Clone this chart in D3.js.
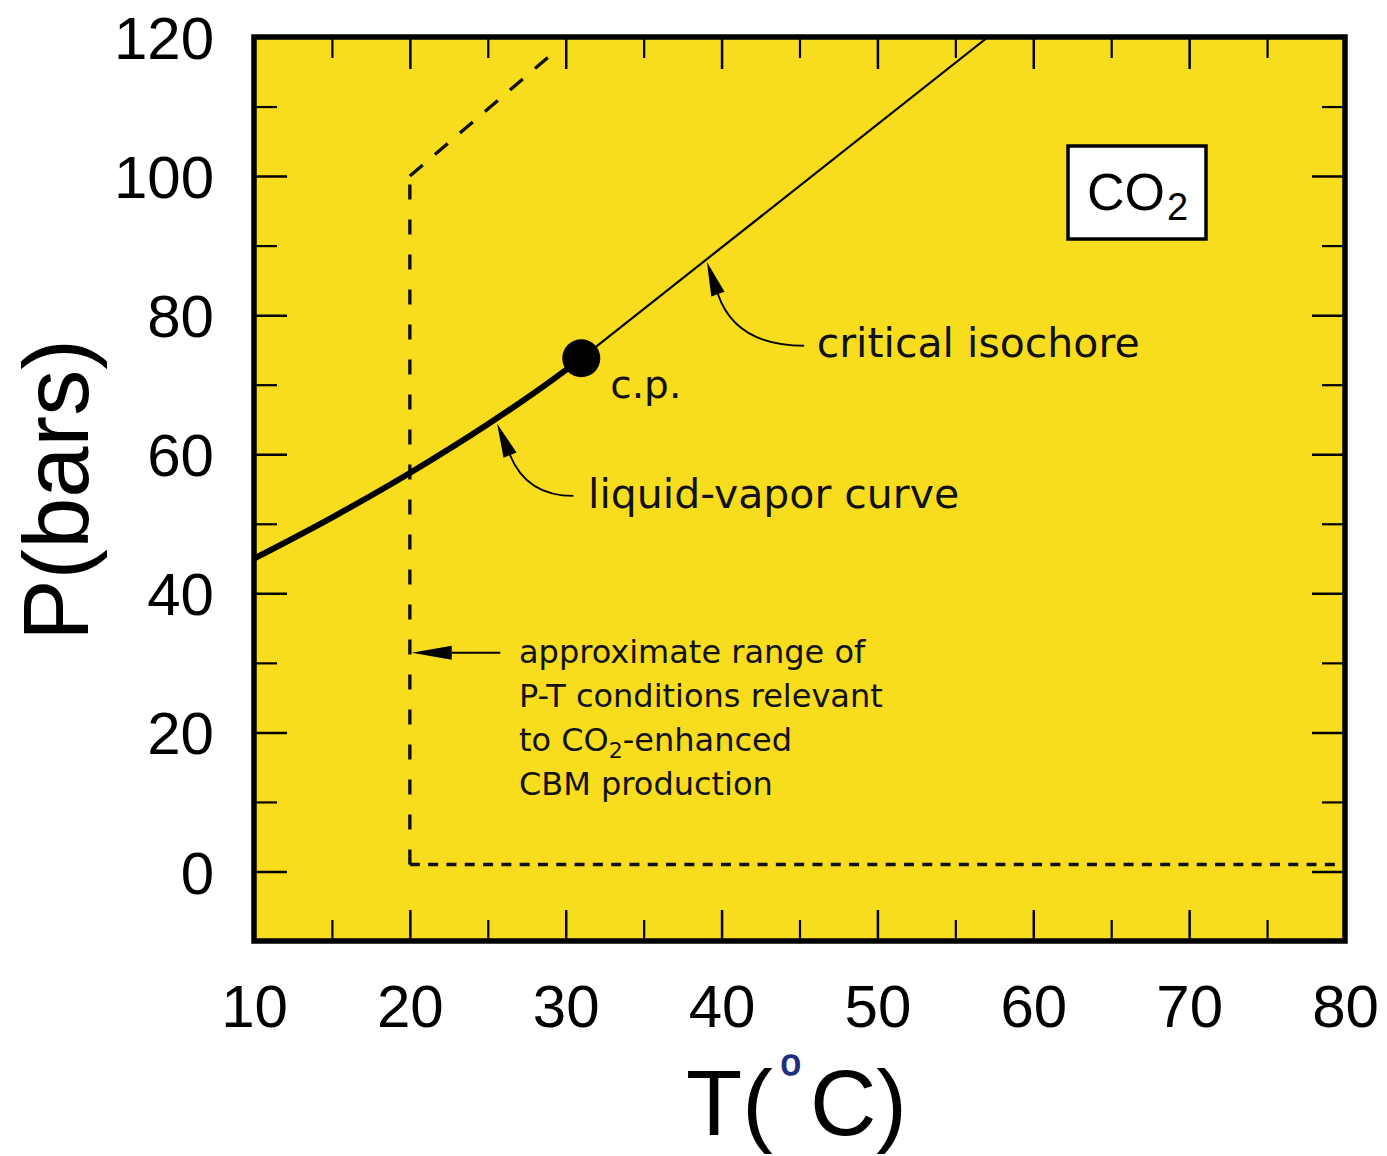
<!DOCTYPE html>
<html>
<head>
<meta charset="utf-8">
<script src="https://cdn.jsdelivr.net/npm/d3@7"></script>
<style>
  html, body { margin: 0; padding: 0; background: #ffffff; }
  svg { display: block; }
</style>
</head>
<body>
<script>
// ---------- data ----------
const xTickValues = [10, 20, 30, 40, 50, 60, 70, 80];
const xMinorValues = [15, 25, 35, 45, 55, 65, 75];
const yTickValues = [0, 20, 40, 60, 80, 100, 120];
const yMinorValues = [-10, 10, 30, 50, 70, 90, 110];

// liquid-vapor curve of CO2 (T in °C, P in bars)
const lvT = [10, 15, 20, 25, 30, 31.0];
const lvP = [45.0, 50.9, 57.3, 64.3, 72.1, 73.8];

// critical isochore
const isoT = [31.0, 57.1];
const isoP = [73.8, 120];

// critical point
const cpT = 31.0;
const cpP = 73.8;

// dashed range box (P-T conditions)
const rangeVertT = [20, 20];
const rangeVertP = [1, 100];
const rangeHorT = [20, 80];
const rangeHorP = [1, 1];
const rangeDiagT = [20, 29.6];
const rangeDiagP = [100, 118.5];

// annotation labels
const labelTexts = ["c.p.", "critical isochore", "liquid-vapor curve"];
const labelT = [32.86, 46.1, 31.43];
const labelP = [68.1, 74.0, 52.2];

const noteLines = ["approximate range of", "P-T conditions relevant", "to CO|2|-enhanced", "CBM production"];
const noteT = 27.0;
const noteP = 30.0;

// arrows: tip, control, tail (T, P)
const arrowTip = [[25.6, 64.4], [39.06, 87.65], [20.12, 31.45]];
const arrowCtrl = [[27.5, 54.0], [40.9, 75.6], [22.9, 31.45]];
const arrowTail = [[30.5, 54.0], [45.3, 75.6], [25.8, 31.45]];

// ---------- layout ----------
const W = 1387, H = 1156;
const x = d3.scaleLinear().domain([10, 80]).range([254, 1345]);
const y = d3.scaleLinear().domain([-10, 120]).range([941, 37]);
const YELLOW = "#f8dd1e";

const svg = d3.select("body").append("svg").attr("width", W).attr("height", H);

svg.append("rect").attr("x", x(10)).attr("y", y(120))
  .attr("width", x(80) - x(10)).attr("height", y(-10) - y(120))
  .attr("fill", YELLOW);

svg.append("defs").append("clipPath").attr("id", "plotclip")
  .append("rect").attr("x", x(10)).attr("y", y(120))
  .attr("width", x(80) - x(10)).attr("height", y(-10) - y(120));

// ---------- axes ----------
function styleAxis(g, sw) {
  g.select(".domain").remove();
  g.selectAll(".tick line").attr("stroke", "#000").attr("stroke-width", sw);
}
const tickFont = "'Liberation Sans', Arial, sans-serif";

// bottom
const gB = svg.append("g").attr("transform", `translate(0,${y(-10)})`)
  .call(d3.axisBottom(x).tickValues(xTickValues).tickSizeInner(-31).tickSizeOuter(0).tickPadding(0).tickFormat(d3.format("d")));
styleAxis(gB, 2.5);
gB.selectAll(".tick text").attr("y", 86).attr("dy", 0)
  .attr("font-family", tickFont).attr("font-size", 60).attr("fill", "#000");
const gBm = svg.append("g").attr("transform", `translate(0,${y(-10)})`)
  .call(d3.axisBottom(x).tickValues(xMinorValues).tickSizeInner(-21).tickSizeOuter(0).tickFormat(""));
styleAxis(gBm, 2.2);

// top
const gT = svg.append("g").attr("transform", `translate(0,${y(120)})`)
  .call(d3.axisTop(x).tickValues(xTickValues).tickSizeInner(-32).tickSizeOuter(0).tickFormat(""));
styleAxis(gT, 2.5);
const gTm = svg.append("g").attr("transform", `translate(0,${y(120)})`)
  .call(d3.axisTop(x).tickValues(xMinorValues).tickSizeInner(-21).tickSizeOuter(0).tickFormat(""));
styleAxis(gTm, 2.2);

// left
const gL = svg.append("g").attr("transform", `translate(${x(10)},0)`)
  .call(d3.axisLeft(y).tickValues(yTickValues).tickSizeInner(-33).tickSizeOuter(0).tickPadding(40).tickFormat(d3.format("d")));
styleAxis(gL, 2.5);
gL.selectAll(".tick text").attr("dy", "0.36em")
  .attr("font-family", tickFont).attr("font-size", 60).attr("fill", "#000");
const gLm = svg.append("g").attr("transform", `translate(${x(10)},0)`)
  .call(d3.axisLeft(y).tickValues(yMinorValues).tickSizeInner(-23).tickSizeOuter(0).tickFormat(""));
styleAxis(gLm, 2.2);

// right
const gR = svg.append("g").attr("transform", `translate(${x(80)},0)`)
  .call(d3.axisRight(y).tickValues(yTickValues).tickSizeInner(-33).tickSizeOuter(0).tickFormat(""));
styleAxis(gR, 2.5);
const gRm = svg.append("g").attr("transform", `translate(${x(80)},0)`)
  .call(d3.axisRight(y).tickValues(yMinorValues).tickSizeInner(-23).tickSizeOuter(0).tickFormat(""));
styleAxis(gRm, 2.2);

// ---------- data marks ----------
const plot = svg.append("g").attr("clip-path", "url(#plotclip)");
const line = d3.line().x(d => x(d[0])).y(d => y(d[1]));

function dashed(ts, ps, dash) {
  plot.append("path").datum(ts.map((t, i) => [t, ps[i]]))
    .attr("d", line).attr("fill", "none").attr("stroke", "#111")
    .attr("stroke-width", 3.4).attr("stroke-dasharray", dash);
}
dashed(rangeVertT, rangeVertP, "15,20");
dashed(rangeHorT, rangeHorP, "10,8.3");
dashed(rangeDiagT, rangeDiagP, "17,16");

plot.append("path").datum(isoT.map((t, i) => [t, isoP[i]]))
  .attr("d", line).attr("fill", "none").attr("stroke", "#000").attr("stroke-width", 2.2);

plot.append("path").datum(lvT.map((t, i) => [t, lvP[i]]))
  .attr("d", line.curve(d3.curveMonotoneX)).attr("fill", "none")
  .attr("stroke", "#000").attr("stroke-width", 6).attr("stroke-linecap", "round");

plot.append("circle").attr("cx", x(cpT)).attr("cy", y(cpP)).attr("r", 19).attr("fill", "#000");

// ---------- arrows ----------
function arrow(tip, ctrl, tail, headLen, halfW) {
  const tx = x(tip[0]), ty = y(tip[1]);
  const cx = x(ctrl[0]), cy = y(ctrl[1]);
  const ex = x(tail[0]), ey = y(tail[1]);
  let dx = cx - tx, dy = cy - ty;
  const L = Math.hypot(dx, dy); dx /= L; dy /= L;
  const bx = tx + dx * headLen, by = ty + dy * headLen;
  const px = -dy, py = dx;
  svg.append("path")
    .attr("d", `M${tx},${ty}L${bx + px * halfW},${by + py * halfW}L${bx - px * halfW},${by - py * halfW}Z`)
    .attr("fill", "#000");
  svg.append("path")
    .attr("d", `M${bx},${by}Q${cx},${cy} ${ex},${ey}`)
    .attr("fill", "none").attr("stroke", "#000").attr("stroke-width", 1.8);
}
arrow(arrowTip[0], arrowCtrl[0], arrowTail[0], 34, 7);
arrow(arrowTip[1], arrowCtrl[1], arrowTail[1], 34, 7);
arrow(arrowTip[2], arrowCtrl[2], arrowTail[2], 40, 7);

// ---------- labels ----------
const annFont = "'DejaVu Sans', Verdana, sans-serif";
labelTexts.forEach((s, i) => {
  svg.append("text").attr("x", x(labelT[i])).attr("y", y(labelP[i]))
    .attr("font-family", annFont).attr("font-size", i === 0 ? 39 : 41)
    .attr("fill", "#111").text(s);
});

noteLines.forEach((s, i) => {
  const t = svg.append("text").attr("x", x(noteT)).attr("y", y(noteP) + i * 44)
    .attr("font-family", annFont).attr("font-size", 32).attr("fill", "#111");
  const parts = s.split("|");
  if (parts.length === 1) { t.text(s); }
  else {
    t.append("tspan").text(parts[0]);
    t.append("tspan").attr("font-size", 22).attr("dy", 7).text(parts[1]);
    t.append("tspan").attr("dy", -7).text(parts[2]);
  }
});

// CO2 box
const boxG = svg.append("g");
boxG.append("rect").attr("x", 1068).attr("y", 146).attr("width", 138).attr("height", 93)
  .attr("fill", "#fff").attr("stroke", "#000").attr("stroke-width", 3.5);
const co2 = boxG.append("text").attr("x", 1087).attr("y", 210)
  .attr("font-family", tickFont).attr("font-size", 52).attr("fill", "#000");
co2.append("tspan").text("CO");
co2.append("tspan").attr("font-size", 38).attr("dy", 10).attr("dx", 2).text("2");

// ---------- frame ----------
svg.append("rect").attr("x", x(10)).attr("y", y(120))
  .attr("width", x(80) - x(10)).attr("height", y(-10) - y(120))
  .attr("fill", "none").attr("stroke", "#000").attr("stroke-width", 5.5);

// ---------- axis titles ----------
svg.append("text").attr("transform", "translate(88,490) rotate(-90)")
  .attr("text-anchor", "middle").attr("font-family", tickFont).attr("font-size", 92)
  .attr("fill", "#000").text("P(bars)");

const xt = svg.append("text").attr("x", 686).attr("y", 1135)
  .attr("font-family", tickFont).attr("font-size", 92).attr("fill", "#000");
xt.append("tspan").text("T(");
xt.append("tspan").attr("font-size", 36).attr("dx", 8).attr("dy", -60)
  .attr("fill", "#1f2f80").attr("stroke", "#1f2f80").attr("stroke-width", 1.4).text("o");
xt.append("tspan").attr("dx", 9).attr("dy", 60).text("C)");
</script>
</body>
</html>
